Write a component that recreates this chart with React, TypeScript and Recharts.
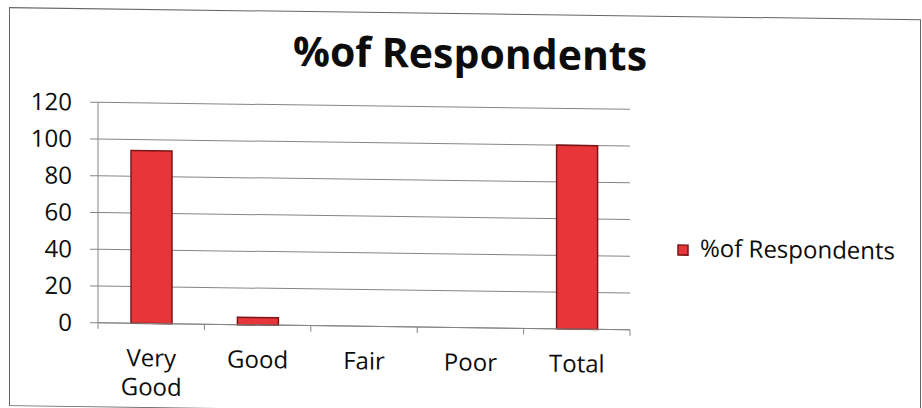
import React from "react";
import { BarChart, Bar, XAxis, YAxis, CartesianGrid, Legend } from "recharts";

const categories = ["Very Good", "Good", "Fair", "Poor", "Total"];
const respondents = [94, 4, 0, 0, 100];
const yTicks = [0, 20, 40, 60, 80, 100, 120];

const SERIES_NAME = "%of Respondents";
const FONT = "'Open Sans', 'Liberation Sans', sans-serif";
const INK = "#0c0c0c";
const GRID = "#858585";
const BAR_FILL = "#e6363a";
const BAR_STROKE = "#7c1616";

const data = categories.map((name, i) => ({ name, value: respondents[i] }));

// Category label, one word per line ("Very Good" wraps), plus the small
// tick marks that sit on the band edges rather than the band centre.
function CategoryTick(props: any) {
  const { x, y, payload, index, visibleTicksCount } = props;
  const half = payload.offset || 0;
  const words = String(payload.value).split(" ");
  const isLast = index === visibleTicksCount - 1;
  return (
    <g>
      <line x1={x - half} x2={x - half} y1={y} y2={y + 6} stroke={GRID} />
      {isLast && <line x1={x + half} x2={x + half} y1={y} y2={y + 6} stroke={GRID} />}
      <text x={x} y={y + 43} textAnchor="middle" fill={INK} fontFamily={FONT} fontSize={24}>
        {words.map((w, i) => (
          <tspan key={w} x={x} dy={i === 0 ? 0 : 29}>
            {w}
          </tspan>
        ))}
      </text>
    </g>
  );
}

function LegendBox(props: any) {
  const item = props.payload?.[0];
  return (
    <svg width={236} height={32} style={{ overflow: "visible" }}>
      <rect x={2} y={10} width={10} height={10} fill={BAR_FILL} stroke={BAR_STROKE} strokeWidth={1.5} />
      <text x={24} y={21.5} fill={INK} fontFamily={FONT} fontSize={24}>
        {item ? item.value : SERIES_NAME}
      </text>
    </svg>
  );
}

export default function App() {
  return (
    <div
      style={{
        position: "absolute",
        left: 0,
        top: 0,
        width: 922,
        height: 408,
        background: "#fff",
        transform: "skewY(0.76deg)",
        transformOrigin: "0 0",
        fontFamily: FONT,
      }}
    >
      <div
        style={{
          position: "absolute",
          left: 9,
          top: 7,
          width: 910,
          height: 397,
          border: "1.5px solid #666",
        }}
      />
      <svg width={922} height={70} style={{ position: "absolute", left: 0, top: 14 }}>
        <text x={470} y={48} textAnchor="middle" fill={INK} fontFamily={FONT} fontWeight={700} fontSize={41}>
          {SERIES_NAME}
        </text>
      </svg>
      <BarChart
        width={922}
        height={408}
        data={data}
        margin={{ top: 101, right: 292, bottom: 16.5, left: 38 }}
      >
        <CartesianGrid vertical={false} stroke={GRID} />
        <XAxis
          dataKey="name"
          height={70}
          axisLine={{ stroke: GRID }}
          tickLine={false}
          tickSize={0}
          tickMargin={0}
          interval={0}
          tick={<CategoryTick />}
        />
        <YAxis
          width={60}
          domain={[0, 120]}
          ticks={yTicks}
          interval={0}
          axisLine={{ stroke: GRID }}
          tickLine={{ stroke: GRID }}
          tickSize={8}
          tickMargin={18}
          tick={{ fill: INK, fontFamily: FONT, fontSize: 24 }}
        />
        <Legend
          layout="vertical"
          align="center"
          verticalAlign="middle"
          wrapperStyle={{ position: "absolute", left: 676, top: 226, width: 236 }}
          content={<LegendBox />}
        />
        <Bar
          dataKey="value"
          name={SERIES_NAME}
          barSize={41}
          fill={BAR_FILL}
          stroke={BAR_STROKE}
          strokeWidth={1.5}
          isAnimationActive={false}
        />
      </BarChart>
    </div>
  );
}
